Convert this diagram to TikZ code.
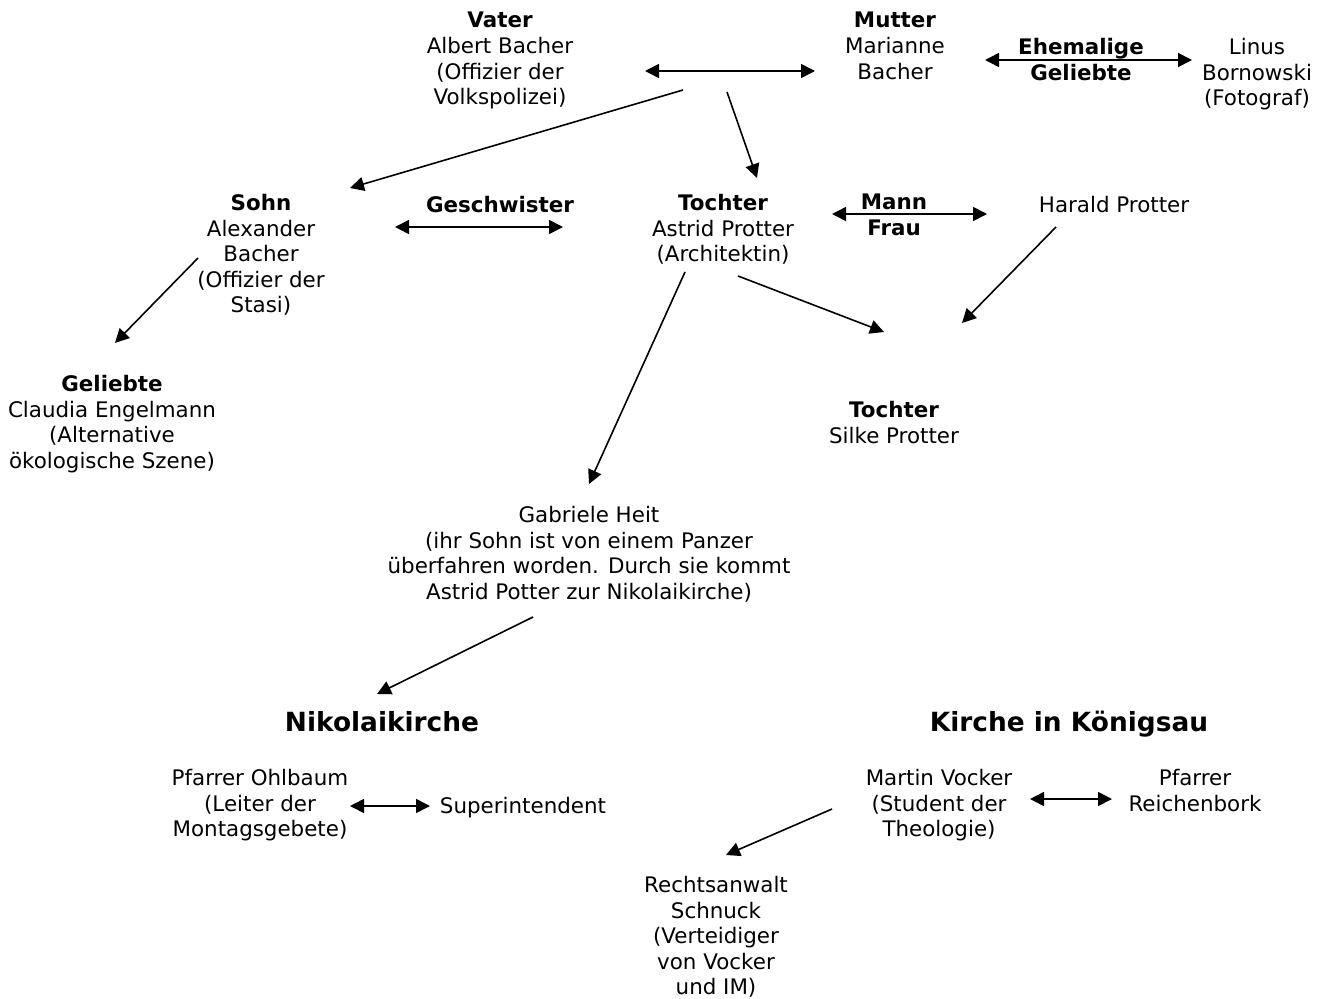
\documentclass[tikz,border=0pt]{standalone}
\usepackage{fontspec}
\setmainfont{DejaVu Sans}
\usetikzlibrary{arrows.meta}
\begin{document}
\begin{tikzpicture}[x=1pt,y=-1pt,
  txt/.style={align=center, inner sep=0pt, anchor=north,
    font=\fontsize{21.4}{25.6}\selectfont,
    execute at begin node=\strut, execute at end node=\strut},
  head/.style={inner sep=0pt, anchor=base, font=\fontsize{26.4}{30}\selectfont\bfseries},
  arr/.style={line width=1.6pt, -{Triangle[length=14pt,width=14pt]}},
  darr/.style={line width=1.6pt, {Triangle[length=14pt,width=14pt]}-{Triangle[length=14pt,width=14pt]}}]
\useasboundingbox (0,0) rectangle (1324,998);
% text blocks
\node[txt] (vater) at (500,12) {\textbf{Vater}\\Albert Bacher\\(Offizier der\\Volkspolizei)};
\node[txt] (mutter) at (895,12) {\textbf{Mutter}\\Marianne\\Bacher};
\node[txt] (ehem) at (1081,38) {\textbf{Ehemalige}\\\textbf{Geliebte}};
\node[txt] (linus) at (1257,38) {Linus\\Bornowski\\(Fotograf)};
\node[txt] (sohn) at (261,194) {\textbf{Sohn}\\Alexander\\Bacher\\(Offizier der\\Stasi)};
\node[txt] (gesch) at (500,194) {\textbf{Geschwister}};
\node[txt] (tochter) at (723,194) {\textbf{Tochter}\\Astrid Protter\\(Architektin)};
\node[txt] (mann) at (894,194) {\textbf{Mann}\\\textbf{Frau}};
\node[txt] (harald) at (1114,194) {Harald Protter};
\node[txt] (geliebte) at (112,375) {\textbf{Geliebte}\\Claudia Engelmann\\(Alternative\\ökologische Szene)};
\node[txt] (silke) at (894,401) {\textbf{Tochter}\\Silke Protter};
\node[txt] (gabriele) at (589,506) {Gabriele Heit\\(ihr Sohn ist von einem Panzer\\überfahren worden. Durch sie kommt\\Astrid Potter zur Nikolaikirche)};
\node[head] (niko) at (382,731.5) {Nikolaikirche};
\node[head] (koenig) at (1069,731.5) {Kirche in Königsau};
\node[txt] (ohlbaum) at (260,769) {Pfarrer Ohlbaum\\(Leiter der\\Montagsgebete)};
\node[txt] (super) at (523,795) {Superintendent};
\node[txt] (vocker) at (939,769) {Martin Vocker\\(Student der\\Theologie)};
\node[txt] (reichen) at (1195,769) {Pfarrer\\Reichenbork};
\node[txt] (schnuck) at (716,876) {Rechtsanwalt\\Schnuck\\(Verteidiger\\von Vocker\\und IM)};
% connector ends
\coordinate (vmA) at (645,71);  \coordinate (vmB) at (815,71);
\coordinate (elA) at (985,60);  \coordinate (elB) at (1192,60);
\coordinate (vsA) at (683,90);  \coordinate (vsB) at (350,188);
\coordinate (vtA) at (727,92);  \coordinate (vtB) at (757,178);
\coordinate (gsA) at (395,227); \coordinate (gsB) at (563,227);
\coordinate (mfA) at (832,214); \coordinate (mfB) at (987,214);
\coordinate (hsA) at (1056,227);\coordinate (hsB) at (962,323);
\coordinate (tsA) at (738,276); \coordinate (tsB) at (884,332);
\coordinate (tgA) at (685,272); \coordinate (tgB) at (589,484);
\coordinate (sgA) at (198,258); \coordinate (sgB) at (115,343);
\coordinate (gnA) at (533,617); \coordinate (gnB) at (377,694);
\coordinate (osA) at (350,806); \coordinate (osB) at (430,806);
\coordinate (vrA) at (1030,799);\coordinate (vrB) at (1112,799);
\coordinate (vcA) at (832,809); \coordinate (vcB) at (726,855);
% connectors
\draw[darr] (vmA) -- (vmB);
\draw[darr] (elA) -- (elB);
\draw[arr] (vsA) -- (vsB);
\draw[arr] (vtA) -- (vtB);
\draw[darr] (gsA) -- (gsB);
\draw[darr] (mfA) -- (mfB);
\draw[arr] (hsA) -- (hsB);
\draw[arr] (tsA) -- (tsB);
\draw[arr] (tgA) -- (tgB);
\draw[arr] (sgA) -- (sgB);
\draw[arr] (gnA) -- (gnB);
\draw[darr] (osA) -- (osB);
\draw[darr] (vrA) -- (vrB);
\draw[arr] (vcA) -- (vcB);
\end{tikzpicture}
\end{document}
